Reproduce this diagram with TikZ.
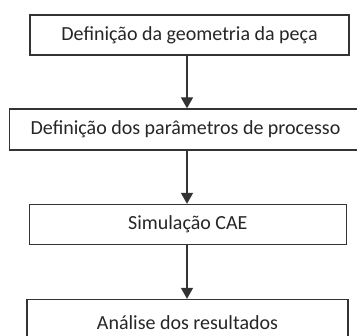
\documentclass[tikz,border=0pt]{standalone}
\usepackage{fontspec}
\setmainfont{Carlito}
\usetikzlibrary{arrows.meta}
\begin{document}
\begin{tikzpicture}[x=1pt,y=-1pt,
  box/.style={draw=black!80, line width=1.3pt, fill=white, inner sep=0pt,
    minimum height=40pt, font=\fontsize{20}{22}\selectfont, text=black!85},
  flow/.style={draw=black!80, line width=1.3pt, -{Triangle[width=12pt,length=11pt]}}]
\useasboundingbox (0,0) rectangle (357,336);
\node[box, minimum width=319pt] (b1) at (189.5,35) {Definição da geometria da peça};
\node[box, minimum width=352pt, minimum height=41pt] (b2) at (185.5,129.5) {Definição dos parâmetros de processo};
\node[box, minimum width=317pt] (b3) at (187.8,224.5) {Simulação CAE};
\node[box, minimum width=321pt, minimum height=46pt] (b4) at (187.5,322.5) {Análise dos resultados};
\draw[flow] (b1.south -| 187,0) -- (b2.north -| 187,0);
\draw[flow] (b2.south -| 187,0) -- (b3.north -| 187,0);
\draw[flow] (b3.south -| 187,0) -- (b4.north -| 187,0);
\end{tikzpicture}
\end{document}
